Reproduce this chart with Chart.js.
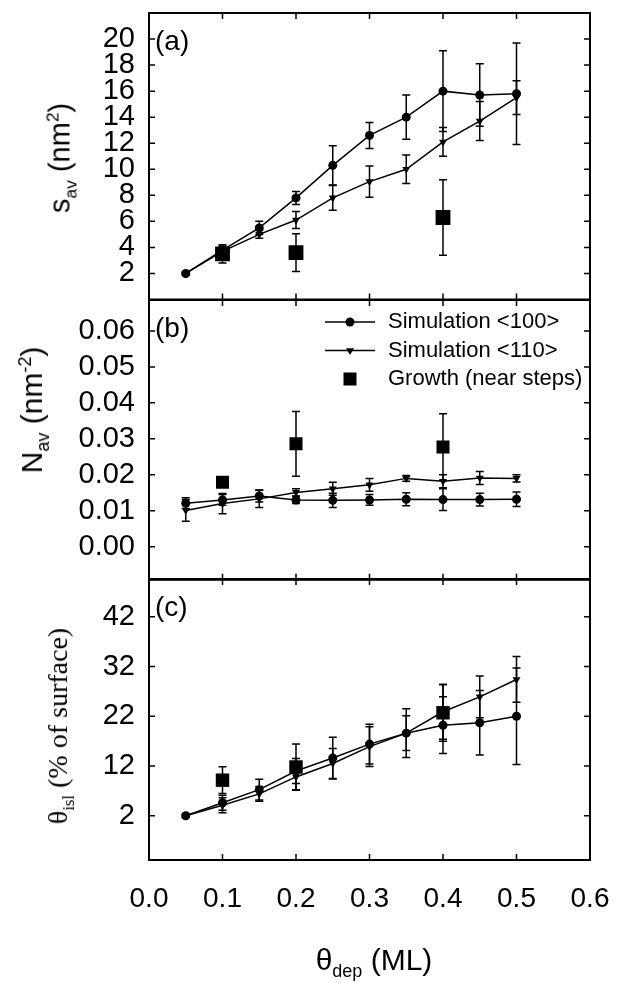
<!DOCTYPE html>
<html>
<head>
<meta charset="utf-8">
<script src="https://cdn.jsdelivr.net/npm/chart.js@4.4.1/dist/chart.umd.min.js"></script>
<style>
body { margin: 0; background: #fff; width: 621px; height: 983px; position: relative; overflow: hidden;
       font-family: "Liberation Sans", Arial, sans-serif; color: #000; }
canvas { position: absolute; left: 0; }
.yt { position: absolute; white-space: nowrap; line-height: 1; transform: translate(-50%, -50%) rotate(-90deg); }
.xt { position: absolute; white-space: nowrap; line-height: 1; transform: translateX(-50%); }
sub, sup { font-size: 60%; line-height: 0; }
</style>
</head>
<body>
<canvas id="cA" width="621" height="310" style="top:0px"></canvas>
<canvas id="cB" width="621" height="300" style="top:290px"></canvas>
<canvas id="cC" width="621" height="413" style="top:570px"></canvas>

<div class="yt" style="left:60px;top:158px;font-size:29px">s<sub>av</sub> (nm<sup>2</sup>)</div>
<div class="yt" style="left:32px;top:410px;font-size:30px">N<sub>av</sub> (nm<sup>-2</sup>)</div>
<div class="yt" style="left:58px;top:726px;font-size:28px;font-family:'Liberation Serif',serif">θ<sub>isl</sub> (% of surface)</div>
<div class="xt" style="left:374px;top:945px;font-size:30px">θ<sub>dep</sub> (ML)</div>

<script>
// x positions (deposited coverage, ML)
const xSim = [0.05, 0.10, 0.15, 0.20, 0.25, 0.30, 0.35, 0.40, 0.45, 0.50];
const xGrowth = [0.10, 0.20, 0.40];
const xTicks = [0.0, 0.1, 0.2, 0.3, 0.4, 0.5, 0.6];

// (a) average island size s_av (nm^2)
const sav100 = [2.0, 3.8, 5.5, 7.8, 10.3, 12.6, 14.0, 16.0, 15.7, 15.8];
const sav100Err = [0.1, 0.3, 0.5, 0.5, 1.5, 1.0, 1.7, 3.1, 2.4, 3.9];
const sav110 = [2.0, 3.7, 5.0, 6.1, 7.8, 9.05, 10.0, 12.1, 13.7, 15.5];
const sav110Err = [0.1, 0.3, 0.3, 0.65, 0.95, 1.2, 1.1, 1.1, 1.5, 1.3];
const savGrowth = [3.5, 3.6, 6.3];
const savGrowthErr = [0.7, 1.45, 2.9];
const savTicks = [2, 4, 6, 8, 10, 12, 14, 16, 18, 20];

// (b) island density N_av (nm^-2)
const nav100 = [0.0121, 0.0130, 0.0141, 0.0130, 0.0129, 0.0130, 0.0132, 0.0131, 0.0131, 0.0132];
const nav100Err = [0.0015, 0.0015, 0.0017, 0.001, 0.002, 0.0015, 0.0018, 0.003, 0.0018, 0.002];
const nav110 = [0.0101, 0.0120, 0.0133, 0.0151, 0.0161, 0.0172, 0.0190, 0.0182, 0.0191, 0.0190];
const nav110Err = [0.003, 0.0028, 0.0024, 0.001, 0.0018, 0.0018, 0.0008, 0.0018, 0.0018, 0.001];
const navGrowth = [0.0179, 0.0286, 0.0277];
const navGrowthErr = [0, 0.009, 0.0093];
const navTicks = [0.00, 0.01, 0.02, 0.03, 0.04, 0.05, 0.06];

// (c) island coverage theta_isl (% of surface)
const thi100 = [2.0, 4.6, 7.25, 11.0, 13.6, 16.4, 18.6, 20.2, 20.7, 22.0];
const thi100Err = [0.3, 1.5, 2.1, 2.5, 4.2, 4.0, 4.9, 5.7, 6.5, 9.7];
const thi110 = [2.0, 4.1, 6.4, 9.8, 12.5, 15.9, 18.6, 22.9, 25.9, 29.4];
const thi110Err = [0.3, 1.5, 1.5, 2.7, 3.0, 4.0, 3.5, 5.5, 4.2, 4.6];
const thiGrowth = [9.15, 11.8, 22.7];
const thiGrowthErr = [2.7, 4.6, 5.7];
const thiTicks = [2, 12, 22, 32, 42];

const legendLabels = ['Simulation <100>', 'Simulation <110>', 'Growth (near steps)'];
const FONT = '"Liberation Sans", Arial, sans-serif';

const pts = (xs, ys) => xs.map((x, i) => ({x: x, y: ys[i]}));

// draws error bars, the boxed frame with inward ticks, the panel letter and (b)'s legend
const framePlugin = {
    id: 'frame',
    beforeDatasetsDraw(chart) {
        const ctx = chart.ctx, xs = chart.scales.x, ys = chart.scales.y;
        ctx.save();
        ctx.strokeStyle = '#000';
        ctx.lineWidth = 1.5;
        chart.data.datasets.forEach(ds => {
            if (!ds.errs) return;
            ds.data.forEach((p, j) => {
                const e = ds.errs[j];
                if (!e) return;
                const x = xs.getPixelForValue(p.x);
                const y1 = ys.getPixelForValue(p.y + e), y2 = ys.getPixelForValue(p.y - e);
                ctx.beginPath();
                ctx.moveTo(x, y1); ctx.lineTo(x, y2);
                ctx.moveTo(x - 4, y1); ctx.lineTo(x + 4, y1);
                ctx.moveTo(x - 4, y2); ctx.lineTo(x + 4, y2);
                ctx.stroke();
            });
        });
        ctx.restore();
    },
    afterDraw(chart, args, opts) {
        const ctx = chart.ctx, a = chart.chartArea, xs = chart.scales.x, ys = chart.scales.y;
        ctx.save();
        ctx.strokeStyle = '#000';
        ctx.fillStyle = '#000';
        ctx.lineWidth = 2;
        ctx.strokeRect(a.left, a.top, a.right - a.left, a.bottom - a.top);
        ctx.lineWidth = 1.5;
        ctx.beginPath();
        ys.ticks.forEach(t => {
            const y = ys.getPixelForValue(t.value);
            ctx.moveTo(a.left, y); ctx.lineTo(a.left + 6, y);
            ctx.moveTo(a.right, y); ctx.lineTo(a.right - 6, y);
        });
        xTicks.slice(1, -1).forEach(v => {
            const x = xs.getPixelForValue(v);
            ctx.moveTo(x, a.top); ctx.lineTo(x, a.top + 6);
            ctx.moveTo(x, a.bottom); ctx.lineTo(x, a.bottom - 6);
        });
        ctx.stroke();

        ctx.font = '28px ' + FONT;
        ctx.textBaseline = 'alphabetic';
        ctx.textAlign = 'left';
        ctx.fillText(opts.tag, a.left + 6, a.top + 37);

        if (opts.legend) {
            ctx.font = '22px ' + FONT;
            ctx.textBaseline = 'middle';
            chart.data.datasets.forEach((ds, i) => {
                const y = a.top + 22 + i * 28.5;
                const xm = a.left + 201;
                if (ds.showLine) {
                    ctx.lineWidth = 1.5;
                    ctx.beginPath();
                    ctx.moveTo(a.left + 176, y); ctx.lineTo(a.left + 226, y);
                    ctx.stroke();
                }
                Chart.helpers.drawPoint(ctx, {
                    pointStyle: ds.pointStyle, rotation: ds.pointRotation || 0,
                    radius: ds.showLine ? ds.pointRadius : 9.2, borderWidth: 0
                }, xm, y);
                ctx.fillText(legendLabels[i], a.left + 239, y);
            });
        }
        ctx.restore();
    }
};

function makePanel(id, cfg) {
    const sim = (label, ys, errs, style, r, rot) => ({
        label: label, data: pts(xSim, ys), errs: errs, showLine: true,
        borderColor: '#000', borderWidth: 1.5, backgroundColor: '#000',
        pointStyle: style, pointRadius: r, pointRotation: rot,
        pointBorderWidth: 0, pointBackgroundColor: '#000'
    });
    return new Chart(document.getElementById(id), {
        type: 'scatter',
        data: {
            datasets: [
                sim(legendLabels[0], cfg.s100, cfg.e100, 'circle', 4.5, 0),
                sim(legendLabels[1], cfg.s110, cfg.e110, 'triangle', 4.6, 180),
                {
                    label: legendLabels[2], data: pts(xGrowth, cfg.grow), errs: cfg.eGrow, showLine: false,
                    pointStyle: 'rect', pointRadius: cfg.sq, pointBorderWidth: 0,
                    pointBackgroundColor: '#000', backgroundColor: '#000', borderColor: '#000'
                }
            ]
        },
        options: {
            responsive: false,
            animation: false,
            layout: {padding: cfg.pad},
            plugins: {
                legend: {display: false},
                tooltip: {enabled: false},
                frame: {tag: cfg.tag, legend: !!cfg.legend}
            },
            scales: {
                x: {
                    type: 'linear', min: 0, max: 0.6, display: !!cfg.showX,
                    afterBuildTicks: s => { s.ticks = xTicks.map(v => ({value: v})); },
                    afterFit: s => {
                        if (cfg.showX) s.height = cfg.xH;
                        s.paddingLeft = 0; s.paddingRight = 0;
                    },
                    grid: {display: false, drawTicks: false},
                    border: {display: false},
                    ticks: {color: '#000', padding: 22, maxRotation: 0, autoSkip: false,
                            font: {size: 28, family: FONT}, callback: v => v.toFixed(1)}
                },
                y: {
                    type: 'linear', min: cfg.min, max: cfg.max,
                    afterBuildTicks: s => { s.ticks = cfg.ticks.map(v => ({value: v})); },
                    afterFit: s => { s.width = 149; s.paddingTop = 0; s.paddingBottom = 0; },
                    grid: {display: false, drawTicks: false},
                    border: {display: false},
                    ticks: {color: '#000', padding: 14, autoSkip: false,
                            font: {size: 29, family: FONT}, callback: cfg.fmt}
                }
            }
        },
        plugins: [framePlugin]
    });
}

const chartA = makePanel('cA', {
    tag: '(a)', s100: sav100, e100: sav100Err, s110: sav110, e110: sav110Err,
    grow: savGrowth, eGrow: savGrowthErr, sq: 10.5,
    min: 0, max: 22, ticks: savTicks, fmt: v => String(v),
    pad: {top: 13, bottom: 7, left: 0, right: 31}
});
const chartB = makePanel('cB', {
    tag: '(b)', s100: nav100, e100: nav100Err, s110: nav110, e110: nav110Err,
    grow: navGrowth, eGrow: navGrowthErr, sq: 9.2, legend: true,
    min: -0.0092, max: 0.0686, ticks: navTicks, fmt: v => v.toFixed(2),
    pad: {top: 11, bottom: 5, left: 0, right: 31}
});
const chartC = makePanel('cC', {
    tag: '(c)', s100: thi100, e100: thi100Err, s110: thi110, e110: thi110Err,
    grow: thiGrowth, eGrow: thiGrowthErr, sq: 9.5,
    min: -6.9, max: 49.6, ticks: thiTicks, fmt: v => String(v),
    pad: {top: 13, bottom: 0, left: 0, right: 31},
    showX: true, xH: 119
});

// stack the canvases so each panel's top edge sits on the previous panel's bottom edge
let edge = 13 - chartA.chartArea.top;
chartA.canvas.style.top = edge + 'px';
edge += chartA.chartArea.bottom;
chartB.canvas.style.top = (edge - chartB.chartArea.top) + 'px';
edge += chartB.chartArea.bottom - chartB.chartArea.top;
chartC.canvas.style.top = (edge - chartC.chartArea.top) + 'px';
</script>
</body>
</html>
